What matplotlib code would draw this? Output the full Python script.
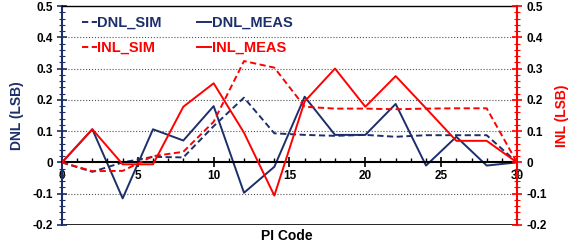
import numpy as np
import matplotlib
import matplotlib.pyplot as plt
from matplotlib.ticker import MultipleLocator

plt.rcParams['font.family'] = ['Liberation Sans', 'DejaVu Sans']
plt.rcParams['font.weight'] = 'bold'

NAVY = '#1c2f6b'
RED = '#ff0000'

pi_code = [0, 2, 4, 6, 8, 10, 12, 14, 16, 18, 20, 22, 24, 26, 28, 30]
dnl_sim = [0, -0.03, 0.0, 0.018, 0.016, 0.116, 0.207, 0.093, 0.088, 0.085, 0.088, 0.082, 0.087, 0.087, 0.087, 0]
dnl_meas = [0, 0.106, -0.115, 0.106, 0.07, 0.18, -0.097, -0.014, 0.21, 0.088, 0.088, 0.187, -0.01, 0.082, -0.01, 0]
inl_sim = [0, -0.028, -0.027, 0.02, 0.034, 0.13, 0.324, 0.303, 0.178, 0.172, 0.172, 0.17, 0.172, 0.173, 0.173, 0]
inl_meas = [0, 0.106, -0.006, -0.006, 0.178, 0.253, 0.095, -0.106, 0.195, 0.3, 0.178, 0.276, 0.173, 0.069, 0.069, 0]

yticks = [-0.2, -0.1, 0, 0.1, 0.2, 0.3, 0.4, 0.5]
ytick_labels = ['-0.2', '-0.1', '0', '0.1', '0.2', '0.3', '0.4', '0.5']


def main():
    fig = plt.figure(figsize=(5.74, 2.46), dpi=100)
    ax = fig.add_axes([0.108, 0.0854, 0.7927, 0.8902])
    ax2 = ax.twinx()

    dash = (3.2, 1.8)
    ax.plot(pi_code, dnl_sim, '--', dashes=dash, color=NAVY, linewidth=1.4, label='DNL_SIM')
    ax.plot(pi_code, dnl_meas, '-', color=NAVY, linewidth=1.4, label='DNL_MEAS')
    ax2.plot(pi_code, inl_sim, '--', dashes=dash, color=RED, linewidth=1.4, label='INL_SIM')
    ax2.plot(pi_code, inl_meas, '-', color=RED, linewidth=1.4, label='INL_MEAS')

    for a in (ax, ax2):
        a.set_xlim(0, 30)
        a.set_ylim(-0.2, 0.5)
        a.set_yticks(yticks)
        a.set_yticklabels(ytick_labels, fontsize=8.5, fontweight='bold')
        a.yaxis.set_minor_locator(MultipleLocator(0.02))

    # dotted grid
    for y in [-0.1, 0.1, 0.2, 0.3, 0.4]:
        ax.axhline(y, color='#555555', linestyle=':', linewidth=0.8, zorder=0)
    ax.axhline(-0.2, color='black', linewidth=1.2, zorder=1)

    # x axis drawn at y=0
    ax.spines['bottom'].set_position(('data', 0))
    ax.spines['bottom'].set_linewidth(1.5)
    ax.spines['top'].set_linewidth(1.0)
    ax.set_xticks(np.arange(0, 31, 5))
    ax.set_xticklabels([str(v) for v in range(0, 31, 5)], fontsize=8.5, fontweight='bold')
    ax.xaxis.set_minor_locator(MultipleLocator(1))
    ax.tick_params(axis='x', which='major', direction='inout', length=7, width=1.2, pad=2)
    ax.tick_params(axis='x', which='minor', direction='in', length=3, width=1.0)

    ax.spines['left'].set_color(NAVY)
    ax.spines['left'].set_linewidth(1.5)
    ax.tick_params(axis='y', which='major', direction='inout', length=7, width=1.2, color=NAVY, pad=3)
    ax.tick_params(axis='y', which='minor', direction='inout', length=4, width=0.8, color=NAVY)

    for s in ['left', 'top', 'bottom']:
        ax2.spines[s].set_visible(False)
    ax2.spines['right'].set_color(RED)
    ax2.spines['right'].set_linewidth(1.5)
    ax.spines['right'].set_visible(False)
    ax2.tick_params(axis='y', which='major', direction='inout', length=7, width=1.2, color=RED, pad=3)
    ax2.tick_params(axis='y', which='minor', direction='inout', length=4, width=0.8, color=RED)

    ax.set_ylabel('DNL (LSB)', color=NAVY, fontsize=10, fontweight='bold', labelpad=6)
    ax2.set_ylabel('INL (LSB)', color=RED, fontsize=10, fontweight='bold', labelpad=6)
    fig.text(0.5, 0.04, 'PI Code', ha='center', va='center', fontsize=10, fontweight='bold')

    h1, l1 = ax.get_legend_handles_labels()
    h2, l2 = ax2.get_legend_handles_labels()
    handles = [h1[0], h2[0], h1[1], h2[1]]
    labels = [l1[0], l2[0], l1[1], l2[1]]
    ax2.legend(handles, labels, ncol=2, loc='upper left', frameon=False,
               handlelength=1.0, handletextpad=0.05, columnspacing=2.4,
               labelspacing=0.75, prop={'weight': 'bold', 'size': 10.5},
               labelcolor='linecolor', bbox_to_anchor=(0.015, 1.015))

    fig.savefig('out.png', dpi=100)
    plt.close(fig)


if __name__ == '__main__':
    main()
